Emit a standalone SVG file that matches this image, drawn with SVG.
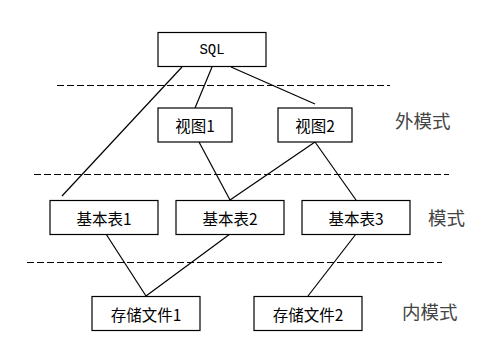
<svg xmlns="http://www.w3.org/2000/svg" width="503" height="359" viewBox="0 0 503 359">
<style>
.box{fill:#fff;stroke:#000;stroke-width:1.2}
.t{font-family:"Noto Sans CJK SC","Noto Sans",sans-serif;font-size:15.5px;fill:#000;text-anchor:middle;dominant-baseline:central}
.m{font-family:"Liberation Mono",monospace;font-size:14px;fill:#000;text-anchor:middle;dominant-baseline:central}
.lab{font-family:"Noto Sans CJK SC","Noto Sans",sans-serif;font-size:18.5px;fill:#444;dominant-baseline:central}
.dash{stroke:#000;stroke-width:1;stroke-dasharray:7 3;fill:none}
.c{stroke:#000;stroke-width:1.2;fill:none}
</style>
<rect width="503" height="359" fill="#fff"/>
<g id="dividers">
<line class="dash" x1="57" y1="85.5" x2="390" y2="85.5"/>
<line class="dash" x1="34" y1="174.5" x2="449" y2="174.5"/>
<line class="dash" x1="27" y1="262.5" x2="442" y2="262.5"/>
</g>
<g id="connectors">
<line class="c" x1="182" y1="67" x2="62" y2="196"/>
<line class="c" x1="212" y1="67" x2="195" y2="108"/>
<line class="c" x1="231" y1="67" x2="315" y2="104"/>
<line class="c" x1="199" y1="142" x2="230" y2="200"/>
<line class="c" x1="315" y1="142" x2="230" y2="200"/>
<line class="c" x1="315" y1="142" x2="356" y2="200"/>
<line class="c" x1="106" y1="234" x2="146" y2="296"/>
<line class="c" x1="230" y1="234" x2="146" y2="296"/>
<line class="c" x1="356" y1="234" x2="308" y2="296"/>
</g>
<g id="sql"><rect class="box" x="158" y="32.5" width="108" height="34"/><text class="m" x="212" y="49.5">SQL</text></g>
<g id="view1"><rect class="box" x="158" y="108" width="74" height="34"/><text class="t" x="195" y="125">视图1</text></g>
<g id="view2"><rect class="box" x="278" y="108" width="74" height="34"/><text class="t" x="315" y="125">视图2</text></g>
<g id="table1"><rect class="box" x="50" y="200.5" width="108" height="34"/><text class="t" x="104" y="217.5">基本表1</text></g>
<g id="table2"><rect class="box" x="176" y="200.5" width="108" height="34"/><text class="t" x="230" y="217.5">基本表2</text></g>
<g id="table3"><rect class="box" x="302" y="200.5" width="108" height="34"/><text class="t" x="356" y="217.5">基本表3</text></g>
<g id="file1"><rect class="box" x="92" y="296.5" width="108" height="34"/><text class="t" x="146" y="313.5">存储文件1</text></g>
<g id="file2"><rect class="box" x="254" y="296.5" width="108" height="34"/><text class="t" x="308" y="313.5">存储文件2</text></g>
<g id="labels">
<text class="lab" x="395" y="120">外模式</text>
<text class="lab" x="428" y="217">模式</text>
<text class="lab" x="402" y="311">内模式</text>
</g>
</svg>
